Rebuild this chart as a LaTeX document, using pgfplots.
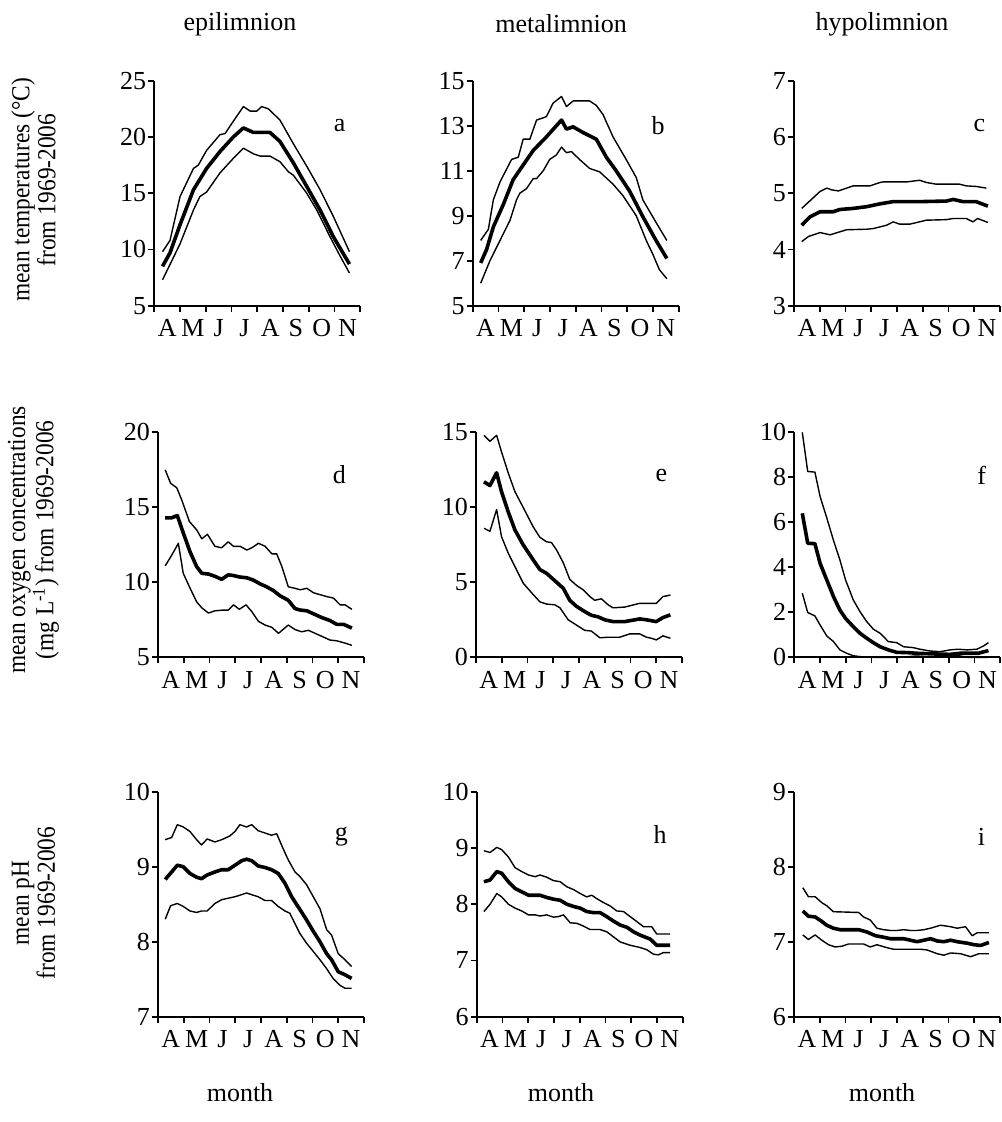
\documentclass[border=0pt]{standalone}
\usepackage{fontspec}
\setmainfont{Liberation Serif}
\newfontfamily\rotfont{Liberation Serif}[FakeStretch=0.9]
\usepackage{pgfplots}
\pgfplotsset{compat=1.18}

\pgfplotsset{
  panel/.style={
    scale only axis, width=103pt, height=112.5pt,
    axis lines=left, axis line style={-, line width=0.9pt},
    xmin=0, xmax=8,
    xtick={0,1,...,8}, xticklabels={},
    extra x ticks={0.5,1.5,...,7.5},
    extra x tick labels={A,M,J,J,A,S,O,N},
    extra x tick style={major tick length=0pt, xticklabel style={yshift=-3.5pt}},
    tick align=outside, major tick length=3pt,
    tick style={line width=0.9pt, black},
    /pgf/number format/assume math mode=true,
    tick label style={font=\fontsize{13}{13}\selectfont},
    yticklabel style={xshift=2.5pt},
    clip=false,
  },
  mean/.style={black, line width=1.8pt, line join=round, no marks},
  band/.style={black, line width=0.7pt, line join=round, no marks},
}
\tikzset{
  letter/.style={font=\fontsize{13}{13}\selectfont},
  lab/.style={font=\fontsize{13}{13}\selectfont},
  ylab/.style={rotate=90, align=center, font=\rotfont\fontsize{13}{11.5}\selectfont},
}

\begin{document}
\begin{tikzpicture}
\path[use as bounding box] (0,0) rectangle (500.5pt,-561pt);

% column titles
\node[lab] at (120pt,-12pt) {epilimnion};
\node[lab] at (280.5pt,-12pt) {metalimnion};
\node[lab] at (441pt,-12pt) {hypolimnion};
% x labels
\node[lab] at (120pt,-546.5pt) {month};
\node[lab] at (280.5pt,-546.5pt) {month};
\node[lab] at (441pt,-546.5pt) {month};
% y labels
\node[ylab] at (16.75pt,-95pt) {mean temperatures (°C)\\from 1969-2006};
\node[ylab] at (16.75pt,-270pt) {mean oxygen concentrations\\(mg L\textsuperscript{-1}) from 1969-2006};
\node[ylab] at (16.75pt,-451.5pt) {mean pH\\from 1969-2006};

% ---- a: epilimnion temperature
\begin{axis}[panel, at={(77.15pt,-152.85pt)}, anchor=south west,
  ymin=5, ymax=25, ytick={5,10,...,25}]
\addplot[band] coordinates {(0.32,9.8)(0.61,10.8)(1.00,14.7)(1.52,17.2)(1.71,17.5)(2.03,18.8)(2.55,20.2)(2.75,20.3)(3.07,21.4)(3.46,22.7)(3.72,22.3)(3.98,22.3)(4.17,22.7)(4.43,22.5)(4.88,21.5)(5.40,19.4)(5.92,17.4)(6.44,15.3)(6.96,12.9)(7.58,9.8)};
\addplot[mean] coordinates {(0.32,8.5)(0.61,9.7)(1.00,12.2)(1.52,15.3)(2.03,17.2)(2.55,18.7)(3.07,20.0)(3.46,20.8)(3.85,20.4)(4.49,20.4)(4.88,19.6)(5.40,17.7)(5.92,15.6)(6.44,13.5)(6.96,11.1)(7.58,8.7)};
\addplot[band] coordinates {(0.32,7.3)(1.00,10.5)(1.52,13.5)(1.77,14.7)(2.03,15.1)(2.55,16.8)(3.07,18.1)(3.46,19.0)(3.85,18.5)(4.11,18.3)(4.49,18.3)(4.88,17.8)(5.21,16.9)(5.40,16.6)(5.92,15.0)(6.31,13.5)(6.83,11.1)(7.22,9.4)(7.58,7.9)};
\node[letter] at (rel axis cs:0.9,0.8) {a};
\end{axis}

% ---- b: metalimnion temperature
\begin{axis}[panel, at={(236.35pt,-152.85pt)}, anchor=south west,
  ymin=5, ymax=15, ytick={5,7,...,15}]
\addplot[band] coordinates {(0.31,7.9)(0.61,8.4)(0.80,9.7)(1.06,10.5)(1.51,11.5)(1.77,11.6)(1.96,12.4)(2.22,12.4)(2.48,13.25)(2.86,13.4)(3.12,14.0)(3.45,14.3)(3.64,13.85)(3.90,14.1)(4.54,14.1)(4.80,13.9)(5.06,13.5)(5.45,12.5)(5.96,11.5)(6.35,10.7)(6.61,9.7)(7.12,8.7)(7.54,7.9)};
\addplot[mean] coordinates {(0.31,6.9)(0.54,7.5)(0.80,8.5)(1.19,9.5)(1.57,10.6)(1.96,11.25)(2.35,11.9)(2.86,12.5)(3.25,13.0)(3.45,13.25)(3.64,12.85)(3.90,12.95)(4.28,12.7)(4.80,12.4)(5.19,11.6)(5.57,11.0)(6.09,10.1)(6.61,8.95)(7.12,7.9)(7.54,7.1)};
\addplot[band] coordinates {(0.31,6.0)(0.67,7.0)(1.06,7.9)(1.45,8.8)(1.70,9.7)(1.83,10.0)(2.09,10.2)(2.35,10.65)(2.48,10.65)(2.74,11.0)(2.99,11.5)(3.25,11.7)(3.45,12.05)(3.64,11.8)(3.83,11.85)(4.15,11.5)(4.54,11.1)(4.93,10.95)(5.45,10.4)(5.83,9.9)(6.35,9.0)(6.74,7.9)(6.99,7.3)(7.25,6.6)(7.54,6.2)};
\node[letter] at (rel axis cs:0.9,0.8) {b};
\end{axis}

% ---- c: hypolimnion temperature
\begin{axis}[panel, at={(397pt,-152.85pt)}, anchor=south west,
  ymin=3, ymax=7, ytick={3,...,7}]
\addplot[band] coordinates {(0.30,4.73)(1.01,5.03)(1.27,5.09)(1.46,5.06)(1.72,5.04)(2.30,5.13)(2.95,5.13)(3.33,5.19)(3.46,5.2)(4.37,5.2)(4.88,5.23)(5.14,5.19)(5.53,5.16)(6.43,5.16)(6.69,5.13)(7.07,5.12)(7.47,5.09)};
\addplot[mean] coordinates {(0.30,4.43)(0.62,4.58)(1.01,4.67)(1.52,4.67)(1.78,4.71)(2.30,4.73)(2.82,4.76)(3.33,4.81)(3.85,4.85)(4.88,4.85)(5.92,4.86)(6.18,4.89)(6.56,4.85)(7.07,4.85)(7.53,4.77)};
\addplot[band] coordinates {(0.30,4.14)(0.56,4.23)(1.01,4.30)(1.40,4.26)(2.04,4.35)(2.82,4.36)(3.07,4.37)(3.33,4.40)(3.59,4.43)(3.85,4.49)(4.11,4.45)(4.50,4.45)(5.14,4.52)(5.92,4.53)(6.18,4.55)(6.69,4.55)(6.95,4.49)(7.13,4.55)(7.53,4.48)};
\node[letter] at (rel axis cs:0.9,0.8) {c};
\end{axis}

% ---- d: epilimnion oxygen
\begin{axis}[panel, at={(79pt,-328.65pt)}, anchor=south west,
  ymin=5, ymax=20, ytick={5,10,15,20}]
\addplot[band] coordinates {(0.28,17.5)(0.49,16.6)(0.73,16.3)(0.92,15.5)(1.22,14.05)(1.50,13.5)(1.70,12.9)(1.92,13.2)(2.21,12.4)(2.47,12.3)(2.73,12.7)(2.93,12.4)(3.19,12.4)(3.45,12.15)(3.64,12.3)(3.90,12.6)(4.16,12.4)(4.42,11.9)(4.61,11.9)(4.81,11.05)(5.06,9.7)(5.32,9.6)(5.52,9.5)(5.78,9.6)(6.04,9.3)(6.55,9.05)(6.81,8.95)(7.07,8.5)(7.26,8.5)(7.53,8.2)};
\addplot[mean] coordinates {(0.28,14.3)(0.53,14.3)(0.75,14.45)(0.98,13.3)(1.24,12.05)(1.50,11.05)(1.70,10.6)(1.96,10.55)(2.21,10.4)(2.47,10.2)(2.73,10.5)(2.93,10.45)(3.19,10.35)(3.45,10.3)(3.70,10.15)(3.96,9.9)(4.22,9.7)(4.48,9.45)(4.74,9.1)(5.06,8.8)(5.32,8.25)(5.52,8.15)(5.78,8.1)(6.04,7.9)(6.36,7.65)(6.68,7.45)(6.94,7.2)(7.20,7.2)(7.53,6.95)};
\addplot[band] coordinates {(0.28,11.1)(0.53,11.8)(0.79,12.6)(0.98,10.6)(1.22,9.7)(1.50,8.7)(1.70,8.3)(1.96,7.95)(2.21,8.1)(2.54,8.15)(2.73,8.15)(2.93,8.5)(3.16,8.2)(3.42,8.5)(3.64,8.05)(3.90,7.4)(4.16,7.15)(4.42,7.0)(4.68,6.6)(5.06,7.15)(5.32,6.85)(5.58,6.7)(5.84,6.8)(6.10,6.6)(6.36,6.4)(6.68,6.15)(6.94,6.1)(7.26,5.95)(7.53,5.8)};
\node[letter] at (rel axis cs:0.88,0.81) {d};
\end{axis}

% ---- e: metalimnion oxygen
\begin{axis}[panel, at={(238pt,-328.65pt)}, anchor=south west,
  ymin=0, ymax=15, ytick={0,5,10,15}]
\addplot[band] coordinates {(0.31,14.8)(0.54,14.4)(0.80,14.8)(0.99,13.7)(1.25,12.3)(1.51,11.05)(1.83,10.0)(2.22,8.7)(2.48,8.0)(2.74,7.7)(2.93,7.65)(3.13,7.15)(3.39,6.3)(3.64,5.2)(3.90,4.8)(4.16,4.5)(4.42,4.05)(4.61,3.8)(4.87,3.9)(5.13,3.5)(5.32,3.3)(5.78,3.35)(6.36,3.6)(7.00,3.6)(7.26,4.05)(7.55,4.15)};
\addplot[mean] coordinates {(0.31,11.7)(0.54,11.45)(0.80,12.3)(0.99,11.05)(1.25,9.7)(1.51,8.5)(1.83,7.5)(2.22,6.5)(2.48,5.85)(2.74,5.6)(3.00,5.2)(3.39,4.6)(3.64,3.8)(3.90,3.4)(4.22,3.05)(4.48,2.8)(4.74,2.7)(5.00,2.5)(5.32,2.38)(5.78,2.38)(6.36,2.56)(6.62,2.5)(7.00,2.38)(7.26,2.65)(7.55,2.83)};
\addplot[band] coordinates {(0.31,8.6)(0.54,8.4)(0.80,9.85)(0.99,8.05)(1.25,6.95)(1.51,6.05)(1.83,4.95)(2.16,4.3)(2.48,3.7)(2.74,3.55)(3.06,3.5)(3.26,3.3)(3.58,2.5)(3.90,2.15)(4.22,1.8)(4.48,1.75)(4.81,1.3)(5.13,1.34)(5.58,1.34)(5.97,1.56)(6.36,1.56)(6.62,1.34)(6.81,1.27)(7.00,1.16)(7.26,1.43)(7.55,1.27)};
\node[letter] at (rel axis cs:0.9,0.81) {e};
\end{axis}

% ---- f: hypolimnion oxygen
\begin{axis}[panel, at={(397.15pt,-328.65pt)}, anchor=south west,
  ymin=0, ymax=10, ytick={0,2,...,10}]
\addplot[band] coordinates {(0.31,10.0)(0.52,8.26)(0.80,8.23)(1.00,7.15)(1.26,6.2)(1.52,5.2)(1.77,4.33)(1.99,3.44)(2.29,2.55)(2.55,2.03)(2.81,1.59)(3.07,1.25)(3.33,1.07)(3.65,0.7)(3.98,0.65)(4.24,0.47)(4.62,0.43)(4.88,0.36)(5.27,0.28)(5.66,0.25)(6.05,0.33)(6.37,0.36)(6.70,0.33)(7.09,0.36)(7.34,0.5)(7.54,0.65)};
\addplot[mean] coordinates {(0.31,6.4)(0.52,5.07)(0.80,5.05)(1.00,4.18)(1.26,3.44)(1.52,2.7)(1.77,2.1)(1.99,1.73)(2.29,1.36)(2.55,1.07)(2.81,0.85)(3.07,0.65)(3.33,0.47)(3.65,0.33)(3.98,0.22)(4.37,0.21)(4.75,0.18)(5.40,0.15)(6.05,0.13)(6.44,0.18)(6.83,0.18)(7.15,0.18)(7.54,0.3)};
\addplot[band] coordinates {(0.31,2.85)(0.52,1.99)(0.80,1.84)(1.00,1.44)(1.26,0.95)(1.52,0.7)(1.77,0.33)(2.03,0.18)(2.29,0.07)(2.55,0.03)(3.07,0)(4.11,0)(4.75,0.06)(5.40,0)(5.98,0.1)(6.44,0.06)(6.70,0)(7.54,0)};
\node[letter] at (rel axis cs:0.91,0.81) {f};
\end{axis}

% ---- g: epilimnion pH
\begin{axis}[panel, at={(79pt,-508.35pt)}, anchor=south west,
  ymin=7, ymax=10, ytick={7,8,9,10}]
\addplot[band] coordinates {(0.28,9.36)(0.53,9.39)(0.75,9.56)(0.98,9.53)(1.24,9.47)(1.50,9.36)(1.69,9.29)(1.91,9.37)(2.21,9.33)(2.47,9.36)(2.79,9.41)(2.99,9.47)(3.18,9.56)(3.44,9.53)(3.64,9.56)(3.89,9.48)(4.15,9.45)(4.41,9.42)(4.61,9.44)(4.86,9.24)(5.06,9.09)(5.32,8.93)(5.51,8.87)(5.77,8.76)(6.03,8.6)(6.29,8.44)(6.55,8.16)(6.74,8.09)(7.00,7.84)(7.26,7.76)(7.52,7.67)};
\addplot[mean] coordinates {(0.28,8.83)(0.53,8.93)(0.75,9.02)(0.98,9.0)(1.24,8.91)(1.50,8.86)(1.69,8.84)(1.91,8.89)(2.21,8.93)(2.47,8.96)(2.73,8.96)(2.99,9.02)(3.25,9.08)(3.44,9.1)(3.64,9.08)(3.89,9.01)(4.15,8.99)(4.41,8.96)(4.67,8.91)(4.93,8.78)(5.19,8.6)(5.51,8.43)(5.77,8.29)(6.03,8.14)(6.29,8.0)(6.55,7.84)(6.74,7.76)(7.00,7.6)(7.26,7.56)(7.52,7.51)};
\addplot[band] coordinates {(0.28,8.3)(0.49,8.48)(0.75,8.51)(0.98,8.47)(1.24,8.41)(1.50,8.39)(1.69,8.41)(1.91,8.41)(2.21,8.51)(2.47,8.56)(2.73,8.58)(2.99,8.6)(3.18,8.62)(3.44,8.65)(3.70,8.62)(3.89,8.6)(4.15,8.55)(4.41,8.55)(4.67,8.47)(4.93,8.41)(5.12,8.38)(5.32,8.24)(5.51,8.11)(5.77,7.98)(6.03,7.87)(6.29,7.76)(6.55,7.64)(6.80,7.51)(7.06,7.42)(7.26,7.38)(7.52,7.38)};
\node[letter] at (rel axis cs:0.89,0.8) {g};
\end{axis}

% ---- h: metalimnion pH
\begin{axis}[panel, at={(238.35pt,-508.35pt)}, anchor=south west,
  ymin=6, ymax=10, ytick={6,...,10}]
\addplot[band] coordinates {(0.28,8.95)(0.52,8.92)(0.78,9.01)(0.97,8.97)(1.23,8.84)(1.49,8.65)(1.75,8.58)(2.01,8.52)(2.27,8.49)(2.46,8.52)(2.72,8.48)(2.98,8.42)(3.24,8.4)(3.50,8.31)(3.76,8.26)(4.02,8.19)(4.27,8.13)(4.47,8.16)(4.66,8.1)(4.92,8.03)(5.18,7.97)(5.44,7.88)(5.70,7.87)(5.96,7.78)(6.22,7.69)(6.48,7.6)(6.80,7.6)(6.99,7.47)(7.51,7.47)};
\addplot[mean] coordinates {(0.28,8.4)(0.52,8.43)(0.78,8.58)(0.97,8.55)(1.23,8.4)(1.49,8.28)(1.75,8.22)(2.01,8.16)(2.46,8.16)(2.72,8.12)(2.98,8.09)(3.24,8.07)(3.50,8.0)(3.76,7.96)(4.02,7.93)(4.27,7.87)(4.53,7.85)(4.79,7.85)(5.05,7.78)(5.31,7.7)(5.57,7.63)(5.83,7.59)(6.09,7.51)(6.35,7.45)(6.74,7.38)(6.99,7.27)(7.51,7.27)};
\addplot[band] coordinates {(0.28,7.87)(0.52,8.0)(0.78,8.19)(0.97,8.13)(1.23,8.0)(1.49,7.93)(1.75,7.88)(2.01,7.81)(2.27,7.81)(2.46,7.79)(2.72,7.81)(2.98,7.77)(3.17,7.78)(3.37,7.81)(3.63,7.67)(3.89,7.66)(4.15,7.61)(4.40,7.55)(4.79,7.55)(5.05,7.51)(5.31,7.42)(5.57,7.33)(5.96,7.27)(6.35,7.23)(6.61,7.19)(6.87,7.11)(7.06,7.1)(7.25,7.14)(7.51,7.14)};
\node[letter] at (rel axis cs:0.89,0.81) {h};
\end{axis}

% ---- i: hypolimnion pH
\begin{axis}[panel, at={(397pt,-508.35pt)}, anchor=south west,
  ymin=6, ymax=9, ytick={6,7,8,9}]
\addplot[band] coordinates {(0.34,7.72)(0.56,7.6)(0.82,7.6)(1.08,7.52)(1.27,7.48)(1.53,7.4)(2.51,7.39)(2.70,7.33)(2.96,7.29)(3.22,7.18)(3.48,7.16)(3.74,7.15)(4.00,7.15)(4.26,7.16)(4.52,7.15)(4.78,7.15)(5.04,7.16)(5.30,7.18)(5.69,7.22)(6.08,7.2)(6.34,7.18)(6.66,7.2)(6.92,7.08)(7.12,7.12)(7.57,7.12)};
\addplot[mean] coordinates {(0.34,7.41)(0.56,7.34)(0.82,7.33)(1.08,7.27)(1.27,7.22)(1.53,7.18)(1.79,7.16)(2.51,7.16)(2.83,7.13)(3.16,7.08)(3.48,7.06)(3.74,7.04)(4.26,7.04)(4.52,7.02)(4.78,7.0)(5.04,7.02)(5.30,7.04)(5.56,7.01)(5.82,7.0)(6.08,7.02)(6.34,7.0)(6.73,6.98)(6.99,6.96)(7.25,6.95)(7.57,6.99)};
\addplot[band] coordinates {(0.34,7.09)(0.56,7.03)(0.82,7.09)(1.08,7.02)(1.34,6.96)(1.60,6.93)(1.86,6.94)(2.12,6.97)(2.70,6.97)(2.96,6.93)(3.22,6.96)(3.61,6.92)(3.87,6.9)(4.91,6.9)(5.17,6.89)(5.56,6.84)(5.82,6.82)(6.08,6.85)(6.47,6.84)(6.86,6.8)(7.18,6.84)(7.57,6.84)};
\node[letter] at (rel axis cs:0.91,0.8) {i};
\end{axis}
\end{tikzpicture}
\end{document}
